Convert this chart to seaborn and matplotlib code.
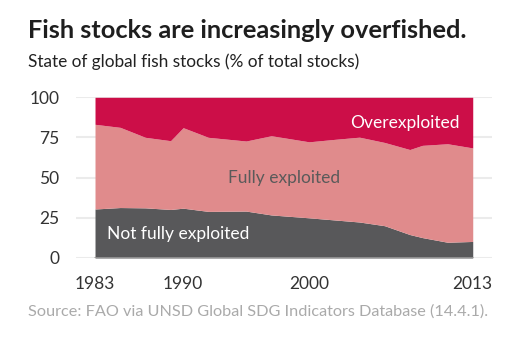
import matplotlib
matplotlib.use("Agg")
import matplotlib.pyplot as plt
import seaborn as sns
import pandas as pd

years = [1983, 1985, 1987, 1989, 1990, 1992, 1995, 1997, 2000, 2002, 2004, 2006, 2008, 2009, 2011, 2013]
not_fully = [30.5, 31.4, 31.2, 30.2, 31.0, 29.0, 29.2, 26.8, 25.0, 23.7, 22.4, 20.1, 14.6, 12.7, 9.8, 10.3]
fully = [52.7, 49.9, 43.9, 42.8, 50.1, 46.1, 43.6, 49.3, 47.3, 50.1, 52.8, 51.8, 52.9, 57.4, 61.3, 58.2]
over = [16.8, 18.7, 24.9, 27.0, 18.9, 24.9, 27.2, 23.9, 27.7, 26.2, 24.8, 28.1, 32.5, 29.9, 28.9, 31.5]
series_names = ["Not fully exploited", "Fully exploited", "Overexploited"]
x_ticks = [1983, 1990, 2000, 2013]
y_ticks = [0, 25, 50, 75, 100]

sns.set_style("white")
plt.rcParams["font.family"] = ["Lato", "DejaVu Sans"]

df = pd.DataFrame({"year": years, series_names[0]: not_fully,
                   series_names[1]: fully, series_names[2]: over})

colors = ["#58585a", "#e08b8c", "#cc0e48"]

fig = plt.figure(figsize=(5.27, 3.61), dpi=100)
ax = fig.add_axes([76/527, 1 - 258/361, 416/527, (258 - 97.3)/361])

for y in y_ticks:
    ax.axhline(y, color="#ebebeb", lw=1.5, zorder=0)

ax.stackplot(df["year"], df[series_names[0]], df[series_names[1]], df[series_names[2]],
             colors=colors, linewidth=0, zorder=2)
sns.lineplot(x=df["year"], y=[0]*len(years), ax=ax, color="#9a9a9a", lw=1.2, zorder=3)

ax.set_xlim(1981.49, 2014.53)
ax.set_ylim(0, 100)
ax.set_xticks(x_ticks)
ax.set_yticks(y_ticks)
ax.set_xlabel("")
ax.set_ylabel("")
ax.tick_params(axis="both", length=0, labelsize=12.5, colors="#333333")
ax.tick_params(axis="x", pad=13)
ax.tick_params(axis="y", pad=12)
sns.despine(ax=ax, left=True, bottom=True)

ax.text(2007.6, 84.2, "Overexploited", color="white", fontsize=12.5, ha="center", va="center", zorder=4)
ax.text(1998.0, 49.7, "Fully exploited", color="#5a5a5a", fontsize=12.5, ha="center", va="center", zorder=4)
ax.text(1989.6, 14.8, "Not fully exploited", color="white", fontsize=12.5, ha="center", va="center", zorder=4)

fig.text(28/527, 1 - 30/361, "Fish stocks are increasingly overfished.", fontsize=18.3,
         fontweight="bold", color="#1e1e1e", ha="left", va="center")
fig.text(28/527, 1 - 62/361, "State of global fish stocks (% of total stocks)", fontsize=12.4,
         color="#222222", ha="left", va="center")
fig.text(28/527, 1 - 312/361, "Source: FAO via UNSD Global SDG Indicators Database (14.4.1).",
         fontsize=11.7, color="#aaaaaa", ha="left", va="center")

fig.savefig("out.png", dpi=100)
